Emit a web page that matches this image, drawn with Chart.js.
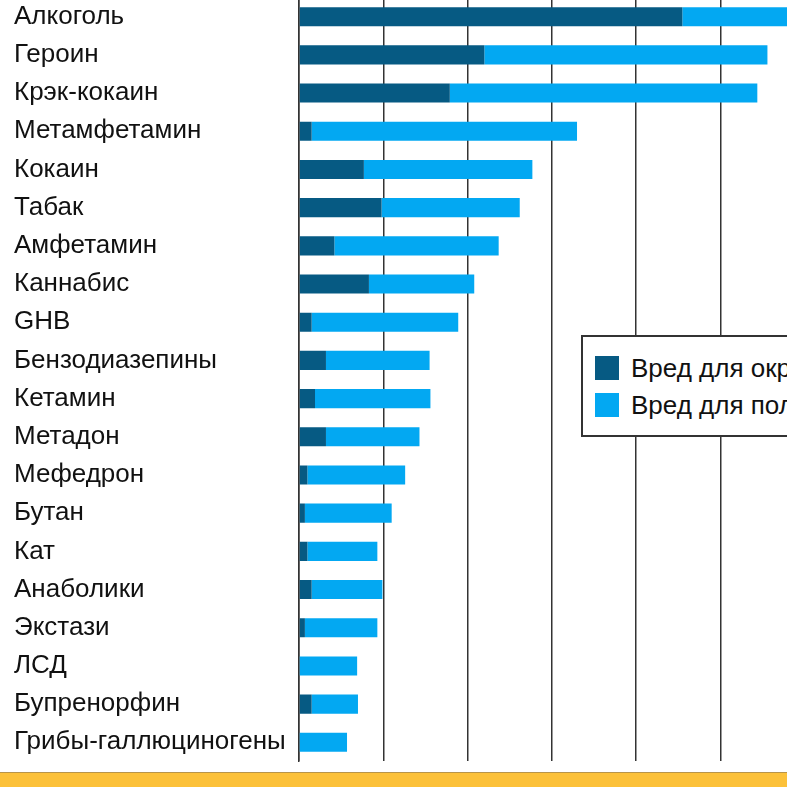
<!DOCTYPE html>
<html>
<head>
<meta charset="utf-8">
<script src="https://cdn.jsdelivr.net/npm/chart.js@4.4.1/dist/chart.umd.min.js"></script>
<style>
  html, body { margin: 0; padding: 0; background: #fff; overflow: hidden; }
  body { width: 787px; height: 787px; position: relative; }
  #wrap { position: absolute; left: 0; top: -28px; width: 1000px; height: 815px; }
  #legend {
    position: absolute; left: 581px; top: 335px; width: 360px; height: 98px;
    background: #fff; border: 2px solid #333; font-family: "Liberation Sans", Arial, sans-serif;
    font-size: 26px; color: #111;
  }
  #legend div { position: absolute; left: 12px; height: 26px; line-height: 26px; white-space: nowrap; }
  #legend span { display: inline-block; width: 24px; height: 24px; vertical-align: middle; margin-right: 12px; position: relative; top: -2px; }
  #band { position: absolute; left: 0; top: 772px; width: 787px; height: 15px; background: #fcc13a; border-top: 1px solid #b8944a; }
</style>
</head>
<body>
<div id="wrap"><canvas id="chart"></canvas></div>
<div id="legend"></div>
<div id="band"></div>
<script>
// drugs, top to bottom
const drugs = ['Алкоголь', 'Героин', 'Крэк-кокаин', 'Метамфетамин', 'Кокаин', 'Табак', 'Амфетамин',
  'Каннабис', 'GHB', 'Бензодиазепины', 'Кетамин', 'Метадон', 'Мефедрон', 'Бутан', 'Кат',
  'Анаболики', 'Экстази', 'ЛСД', 'Бупренорфин', 'Грибы-галлюциногены'];

// harm to others
const harmOthers = [45.5, 22, 17.9, 1.5, 7.7, 9.8, 4.2, 8.3, 1.5, 3.2, 1.9, 3.2, 1, 0.7, 1, 1.5, 0.7, 0, 1.5, 0];
// harm to users
const harmUsers = [26.5, 33.6, 36.5, 31.5, 20, 16.4, 19.5, 12.5, 17.4, 12.3, 13.7, 11.1, 11.6, 10.3, 8.3, 8.4, 8.6, 6.9, 5.5, 5.7];

const seriesNames = ['Вред для окружающих', 'Вред для пользователей'];
const seriesColors = ['#065a83', '#03a8f2'];

const ctx = document.getElementById('chart').getContext('2d');
const chart = new Chart(ctx, {
  type: 'bar',
  data: {
    labels: drugs,
    datasets: [
      { label: seriesNames[0], data: harmOthers, backgroundColor: seriesColors[0] },
      { label: seriesNames[1], data: harmUsers, backgroundColor: seriesColors[1] }
    ]
  },
  options: {
    indexAxis: 'y',
    responsive: true,
    maintainAspectRatio: false,
    animation: false,
    datasets: { bar: { categoryPercentage: 0.5, barPercentage: 1 } },
    layout: { padding: { left: 14, right: 27, top: 0, bottom: 0 } },
    plugins: { legend: { display: false }, tooltip: { enabled: false } },
    scales: {
      x: {
        stacked: true,
        min: 0,
        max: 80,
        ticks: { display: false, stepSize: 10 },
        grid: { color: '#333', lineWidth: 1.5, drawTicks: false },
        border: { display: false },
        afterFit: function (scale) { scale.height = 0; }
      },
      y: {
        stacked: true,
        ticks: {
          crossAlign: 'far',
          color: '#111',
          padding: 10,
          font: { family: '"Liberation Sans", Arial, sans-serif', size: 26 }
        },
        grid: { display: false, drawTicks: false },
        border: { display: true, color: '#333', width: 1.5 },
        afterFit: function (scale) { scale.width = 285; }
      }
    }
  }
});

// html legend from the datasets
const legend = document.getElementById('legend');
chart.data.datasets.forEach(function (ds, i) {
  const item = document.createElement('div');
  item.style.top = (18 + i * 37) + 'px';
  item.innerHTML = '<span style="background:' + ds.backgroundColor + '"></span>' + ds.label;
  legend.appendChild(item);
});
</script>
</body>
</html>
